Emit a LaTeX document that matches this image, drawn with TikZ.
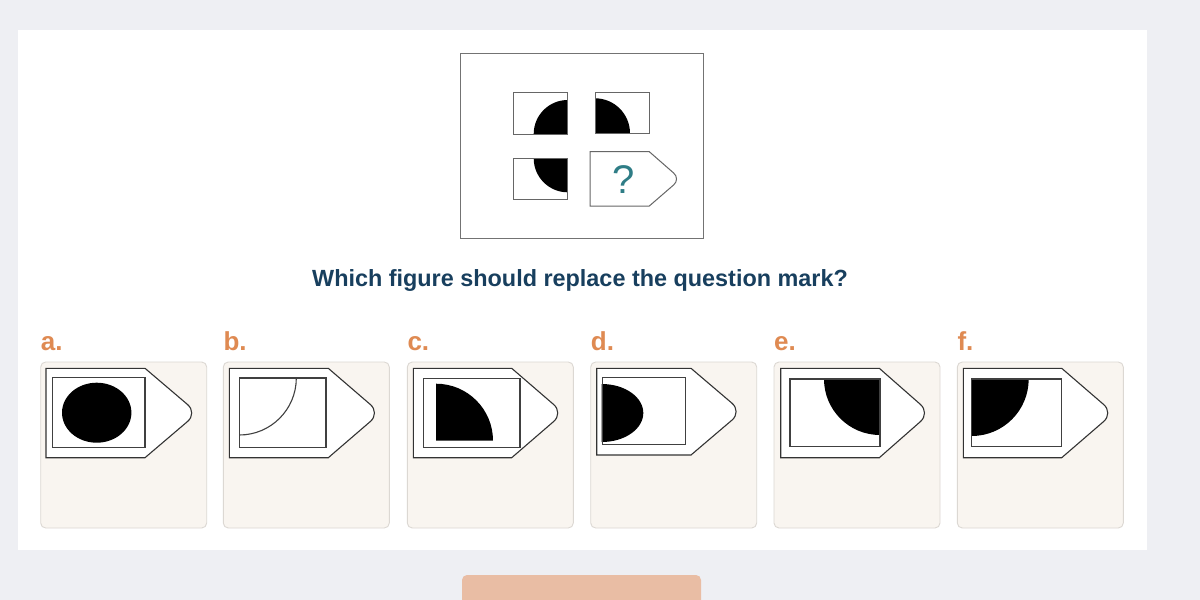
\documentclass[tikz,border=0pt]{standalone}
\usepackage{fontspec}
\setmainfont{Liberation Sans}
\usetikzlibrary{positioning}
\definecolor{pagebg}{HTML}{EEEFF3}
\definecolor{cardbg}{HTML}{F9F5F0}
\definecolor{cardline}{HTML}{DCD8D3}
\definecolor{optcol}{HTML}{DF8A52}
\definecolor{titlecol}{HTML}{183F5E}
\definecolor{qcol}{HTML}{2F7D86}
\definecolor{btncol}{HTML}{E9BDA4}
\begin{document}
\begin{tikzpicture}[x=1pt,y=-1pt,
    card/.style={draw=cardline,fill=cardbg,rounded corners=5pt,line width=0.9pt},
    tagline/.style={draw=black!80,fill=white,line width=1.1pt},
    cell/.style={draw=black!60,line width=1pt},
    inner/.style={draw=black!75,line width=1.1pt},
    optlabel/.style={anchor=base west,inner sep=0pt,text=optcol,font=\bfseries\fontsize{26}{28}\selectfont}]
   \useasboundingbox (0,0) rectangle (1200,600);
   \clip (0,0) rectangle (1200,600);
   \fill[pagebg] (0,0) rectangle (1200,600);
   \fill[white] (18,30) rectangle (1147,550);
   \fill[btncol,rounded corners=5pt] (462,575) rectangle (701,612);
   % question panel
   \draw[draw=black!55,line width=0.8pt] (460,53) rectangle (703,238);
   \fill (567.7,134) -- ++(180:34) arc[start angle=180,end angle=270,radius=34] -- cycle;
   \fill (595,133.3) -- ++(0:35) arc[start angle=0,end angle=-90,radius=35] -- cycle;
   \fill (567.7,158.3) -- ++(90:34) arc[start angle=90,end angle=180,radius=34] -- cycle;
   \draw[cell] (513.3,92.7) rectangle (567.7,134);
   \draw[cell] (595,92.3) rectangle (649.3,133.3);
   \draw[cell] (513.3,158.3) rectangle (567.7,199);
   \draw[cell] (590,151.7) -- (649.3,151.7) [rounded corners=9pt] -- (680.5,179) [sharp corners] -- (649.3,206) -- (590,206) -- cycle;
   \node (qmark) at (624,180) {\textcolor{qcol}{\fontsize{40}{42}\selectfont ?}};
   \node (title) at (580,280) {\textcolor{titlecol}{\bfseries\fontsize{23.4}{26}\selectfont Which figure should replace the question mark?}};
   % answer cards
   \foreach \l/\cx/\tx/\sx/\px/\by in {a/40.7/46/145/197.5/457.7, b/223.3/229.3/328.3/380.2/457.7,
        c/407.3/413.3/511.7/563.5/457.7, d/590.7/596.7/691/741.9/455,
        e/774/780.7/879.3/930.2/457.7, f/957.3/963.3/1061.7/1113.5/457.7} {
     \draw[card] (\cx,362) rectangle ++(166,166);
     \node[optlabel] (lab-\l) at (\cx,350) {\l.};
     \draw[tagline] (\tx,368.3) -- (\sx,368.3) [rounded corners=13pt] -- (\px,{(368.3+\by)/2}) [sharp corners] -- (\sx,\by) -- (\tx,\by) -- cycle;
   }
   % a
   \draw[inner] (52.3,377.7) rectangle (145,447.3);
   \fill (96.7,412.7) ellipse[x radius=34.7,y radius=30];
   % b
   \draw[inner] (239.3,378) rectangle (326,447.3);
   \draw[inner] (296.3,378) arc[start angle=0,end angle=90,radius=57];
   % c
   \draw[inner] (423.3,378.3) rectangle (520,447.3);
   \fill (436,440.7) -- ++(0:57) arc[start angle=0,end angle=-90,radius=57] -- cycle;
   % d
   \fill (601.7,384) arc[start angle=-90,end angle=90,x radius=41.6,y radius=29] -- cycle;
   \draw[inner] (602.3,377.3) rectangle (685.7,444.3);
   % e
   \fill (880,379) -- ++(90:56) arc[start angle=90,end angle=180,radius=56] -- cycle;
   \draw[inner] (790,379) rectangle (880,446.7);
   % f
   \fill (971.7,379) -- ++(0:57) arc[start angle=0,end angle=90,radius=57] -- cycle;
   \draw[inner] (971.7,379) rectangle (1061.7,446.7);
\end{tikzpicture}
\end{document}
